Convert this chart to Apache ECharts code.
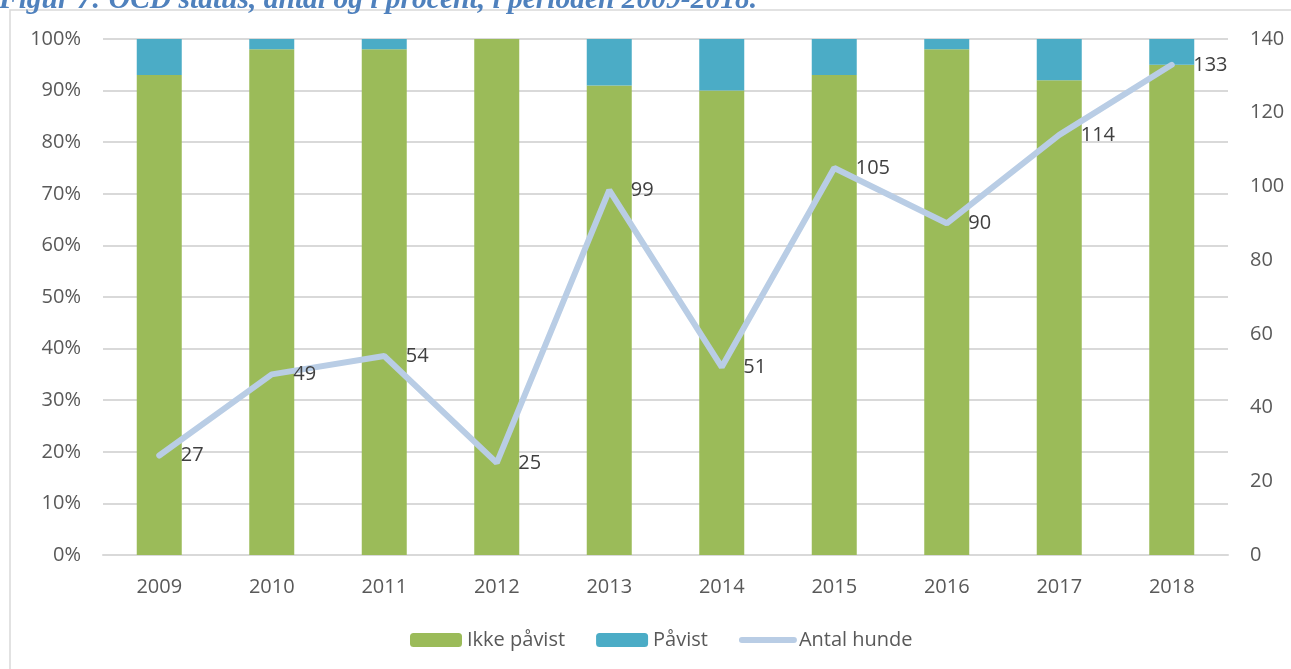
<!DOCTYPE html>
<html lang="da">
<head>
    <meta charset="UTF-8">
    <title>OCD status 2009-2018</title>
    <script src="https://cdn.jsdelivr.net/npm/echarts/dist/echarts.min.js"></script>
    <style>
        body { margin: 0; padding: 0; background: #fff; }
        #main { width: 1291px; height: 669px; }
    </style>
</head>
<body>
    <div id="main"></div>
    <script type="text/javascript">
        // data
        var years = ['2009', '2010', '2011', '2012', '2013', '2014', '2015', '2016', '2017', '2018'];
        var ikkePavist = [93, 98, 98, 100, 91, 90, 93, 98, 92, 95];   // %
        var pavist = [7, 2, 2, 0, 9, 10, 7, 2, 8, 5];                 // %
        var antalHunde = [27, 49, 54, 25, 99, 51, 105, 90, 114, 133];

        var chart = echarts.init(document.getElementById('main'));
        var font = '"Open Sans", sans-serif';

        var option = {
            animation: false,
            title: {
                text: 'Figur 7: OCD status, antal og i procent, i perioden 2009-2018.',
                left: -6,
                top: -20,
                textStyle: {
                    fontFamily: '"Liberation Serif", serif',
                    fontStyle: 'italic',
                    fontWeight: 'bold',
                    fontSize: 29.5,
                    color: '#4f81bd'
                }
            },
            graphic: [{
                type: 'rect',
                shape: { x: 10, y: 10, width: 1400, height: 800 },
                style: { fill: 'none', stroke: '#d9d9d9', lineWidth: 1.5 },
                silent: true
            }],
            grid: { left: 103, right: 63, top: 39, bottom: 114 },
            legend: {
                left: 405,
                top: 625,
                itemWidth: 52,
                itemHeight: 14,
                itemGap: 31,
                textStyle: { fontFamily: font, fontSize: 20, color: '#595959' },
                data: ['Ikke påvist', 'Påvist', {
                    name: 'Antal hunde',
                    itemStyle: { opacity: 0 },
                    lineStyle: { width: 6, cap: 'round' }
                }]
            },
            xAxis: {
                type: 'category',
                data: years,
                axisLine: { lineStyle: { color: '#d9d9d9', width: 2 } },
                axisTick: { show: false },
                axisLabel: { fontFamily: font, fontSize: 20, color: '#595959', margin: 22 }
            },
            yAxis: [{
                type: 'value',
                min: 0,
                max: 100,
                interval: 10,
                axisLabel: {
                    fontFamily: font, fontSize: 20, color: '#595959', margin: 22,
                    formatter: '{value}%'
                },
                splitLine: { lineStyle: { color: '#d9d9d9', width: 2 } }
            }, {
                type: 'value',
                min: 0,
                max: 140,
                interval: 20,
                position: 'right',
                axisLabel: { fontFamily: font, fontSize: 20, color: '#595959', margin: 22 },
                splitLine: { show: false }
            }],
            series: [{
                name: 'Ikke påvist',
                type: 'bar',
                stack: 'pct',
                barWidth: 45,
                itemStyle: { color: '#9bbb59' },
                data: ikkePavist
            }, {
                name: 'Påvist',
                type: 'bar',
                stack: 'pct',
                barWidth: 45,
                itemStyle: { color: '#4bacc6' },
                data: pavist
            }, {
                name: 'Antal hunde',
                type: 'line',
                yAxisIndex: 1,
                symbol: 'circle',
                symbolSize: 1,
                itemStyle: { color: '#b9cde5' },
                lineStyle: { color: '#b9cde5', width: 6, cap: 'round' },
                label: {
                    show: true,
                    position: 'right',
                    distance: 21,
                    fontFamily: font,
                    fontSize: 20,
                    color: '#404040'
                },
                data: antalHunde
            }]
        };

        chart.setOption(option);
    </script>
</body>
</html>
